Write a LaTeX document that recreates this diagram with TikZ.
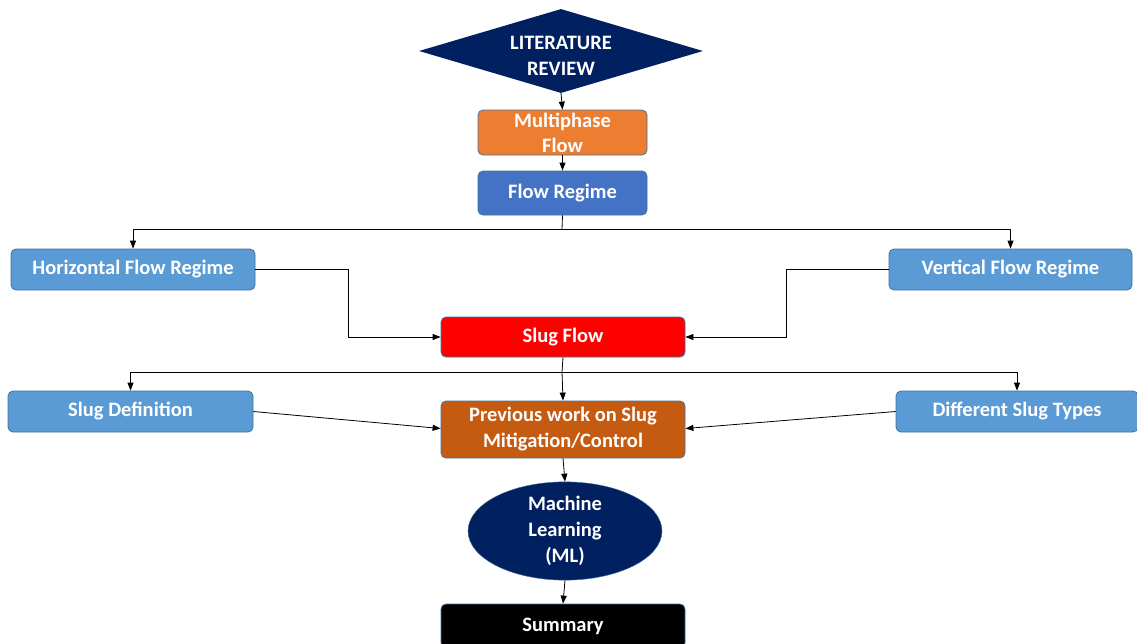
\documentclass[tikz,border=0pt]{standalone}
\usepackage{fontspec}
\setmainfont{Carlito}
\usetikzlibrary{shapes.geometric,arrows.meta}

\definecolor{navy}{HTML}{002060}
\definecolor{orangeA}{HTML}{ED7D31}
\definecolor{blueA}{HTML}{4472C4}
\definecolor{blueB}{HTML}{5B9BD5}
\definecolor{rustA}{HTML}{C55A11}
\definecolor{rimA}{HTML}{41719C}

\tikzset{
    box/.style={draw=rimA, line width=0.8pt, rounded corners=5pt, text=white,
        font=\bfseries\fontsize{20.5}{25}\selectfont, align=center, inner sep=0pt},
    link/.style={-{Triangle[length=8pt,width=6pt]}, black, line width=0.8pt}
}

\begin{document}
\begin{tikzpicture}[x=1pt, y=-1pt]
        \useasboundingbox (0,0) rectangle (1137,643);
        \clip (0,0) rectangle (1137,643);

        \node[diamond, fill=navy, text=white, font=\bfseries\fontsize{20.5}{26}\selectfont,
            minimum width=284pt, minimum height=84pt, aspect=3.4, inner sep=0pt] (lit) at (561,51)
            {\raisebox{-6pt}[\height][\depth]{\begin{tabular}{@{}c@{}}LITERATURE\\REVIEW\end{tabular}}};
        \node[box, fill=orangeA, minimum width=169pt, minimum height=45pt] (multi) at (562.5,132.5) {Multiphase\\Flow};
        \node[box, fill=blueA, minimum width=169pt, minimum height=44pt] (regime) at (562.5,193) {Flow Regime};
        \node[box, fill=blueB, minimum width=244pt, minimum height=41pt] (horiz) at (133,269.5) {Horizontal Flow Regime};
        \node[box, fill=blueB, minimum width=243pt, minimum height=41pt] (vert) at (1010.5,269.5) {Vertical Flow Regime};
        \node[box, fill=red, minimum width=244pt, minimum height=40pt] (slug) at (563,337) {Slug Flow};
        \node[box, fill=blueB, minimum width=245pt, minimum height=41pt] (sdef) at (130.5,411.5) {Slug Definition};
        \node[box, fill=blueB, minimum width=242pt, minimum height=41pt] (stypes) at (1017,411.5) {Different Slug Types};
        \node[box, fill=rustA, minimum width=244pt, minimum height=57pt, font=\bfseries\fontsize{20.5}{26}\selectfont] (prev) at (563,429.5) {Previous work on Slug\\Mitigation/Control};
        \node[ellipse, draw=rimA, fill=navy, text=white, font=\bfseries\fontsize{20.5}{26}\selectfont, align=center,
            minimum width=194pt, minimum height=85pt, inner sep=0pt] (ml) at (565,531) {Machine\\Learning\\(ML)};
        \node[box, fill=black, minimum width=244pt, minimum height=44pt] (summ) at (563,626) {Summary};

        % branch points
        \coordinate (j1) at (562,229);
        \coordinate (j2) at (562,372);

        \draw[link] (lit.south) -- (multi.north);
        \draw[link] (multi.south) -- (regime.north);
        \draw[black, line width=0.8pt] (regime.south) -- (j1);
        \draw[link] (j1) -| (horiz.north);
        \draw[link] (j1) -| (vert.north);
        \draw[link] (horiz.east) -- (348,269.5) |- (slug.west);
        \draw[link] (vert.west) -- (786,269.5) |- (slug.east);
        \draw[black, line width=0.8pt] (slug.south) -- (j2);
        \draw[link] (j2) -| (sdef.north);
        \draw[link] (j2) -| (stypes.north);
        \draw[link] (j2) -- (prev.north);
        \draw[link] (sdef.east) -- ([yshift=1pt]prev.west);
        \draw[link] (stypes.west) -- ([yshift=1pt]prev.east);
        \draw[link] (prev.south) -- (ml.north);
        \draw[link] (ml.south) -- (summ.north);
    \end{tikzpicture}
\end{document}
